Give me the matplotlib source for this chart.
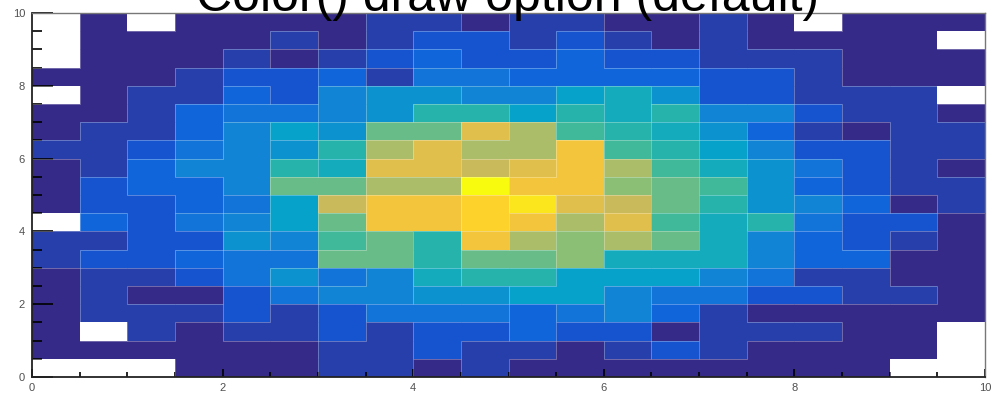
import numpy as np
import matplotlib.pyplot as plt
from matplotlib.colors import LinearSegmentedColormap
from matplotlib.collections import LineCollection
from matplotlib.ticker import MultipleLocator

# Histogram bin edges (20 x 20 bins over 0..10)
x_edges = np.linspace(0, 10, 21)
y_edges = np.linspace(0, 10, 21)

# Bin contents, rows from top (y=9.5..10) to bottom (y=0..0.5)
rows_top_down = [
    [0, 1, 0, 1, 1, 1, 1, 2, 2, 1, 2, 2, 1, 1, 2, 1, 0, 1, 1, 1],
    [0, 1, 1, 1, 1, 2, 1, 2, 3, 3, 2, 3, 2, 1, 2, 1, 1, 1, 1, 0],
    [0, 1, 1, 1, 2, 1, 2, 3, 4, 3, 3, 4, 3, 3, 2, 2, 2, 1, 1, 1],
    [1, 1, 1, 2, 3, 3, 4, 2, 5, 5, 4, 4, 4, 4, 3, 3, 2, 1, 1, 1],
    [0, 1, 2, 2, 4, 3, 6, 7, 7, 6, 6, 8, 9, 7, 3, 3, 2, 2, 2, 0],
    [1, 1, 2, 4, 5, 5, 6, 7, 10, 10, 8, 10, 9, 10, 6, 6, 3, 2, 2, 1],
    [1, 2, 2, 4, 6, 8, 7, 12, 12, 16, 14, 11, 10, 9, 7, 4, 2, 1, 2, 2],
    [2, 2, 3, 5, 6, 7, 10, 14, 16, 14, 14, 17, 11, 10, 8, 6, 3, 3, 2, 2],
    [1, 2, 4, 6, 6, 10, 9, 16, 16, 15, 16, 17, 14, 11, 9, 7, 5, 3, 2, 1],
    [1, 3, 4, 4, 6, 12, 12, 14, 14, 20, 17, 17, 13, 12, 11, 7, 4, 3, 2, 2],
    [1, 3, 3, 4, 5, 8, 15, 17, 17, 18, 19, 16, 15, 12, 10, 7, 6, 4, 1, 2],
    [0, 4, 3, 5, 6, 8, 12, 17, 17, 18, 17, 14, 16, 11, 9, 10, 5, 3, 3, 1],
    [2, 2, 3, 3, 7, 6, 11, 12, 10, 17, 14, 13, 14, 12, 9, 6, 4, 3, 2, 1],
    [2, 3, 3, 4, 5, 5, 12, 12, 10, 12, 12, 13, 9, 9, 9, 6, 4, 4, 1, 1],
    [1, 2, 2, 3, 5, 7, 5, 6, 9, 10, 10, 8, 8, 8, 6, 5, 2, 2, 1, 1],
    [1, 2, 1, 1, 3, 5, 6, 6, 7, 7, 8, 8, 6, 5, 5, 3, 3, 2, 2, 1],
    [1, 2, 2, 2, 3, 2, 3, 5, 5, 5, 4, 5, 6, 4, 2, 1, 1, 1, 1, 1],
    [1, 0, 2, 1, 2, 2, 3, 2, 3, 3, 4, 3, 3, 1, 2, 2, 2, 1, 1, 0],
    [1, 1, 1, 1, 1, 1, 2, 2, 3, 2, 2, 1, 2, 3, 2, 1, 1, 1, 1, 0],
    [0, 0, 0, 1, 1, 1, 2, 2, 1, 2, 1, 1, 1, 1, 1, 1, 1, 1, 0, 0],
]
counts = np.array(rows_top_down[::-1])

title = "Color() draw option (default)"

# ROOT kBird palette
bird_stops = [0.0, 0.125, 0.25, 0.375, 0.5, 0.625, 0.75, 0.875, 1.0]
bird_r = [0.2082, 0.0592, 0.0780, 0.0232, 0.1802, 0.5301, 0.8186, 0.9956, 0.9764]
bird_g = [0.1664, 0.3599, 0.5041, 0.6419, 0.7178, 0.7492, 0.7328, 0.7862, 0.9832]
bird_b = [0.5293, 0.8684, 0.8385, 0.7914, 0.6425, 0.4662, 0.3499, 0.1968, 0.0539]
bird = LinearSegmentedColormap.from_list(
    "bird", list(zip(bird_stops, zip(bird_r, bird_g, bird_b))))

plt.rcParams['font.family'] = ['Liberation Sans', 'DejaVu Sans']

fig = plt.figure(figsize=(9.91, 3.93), dpi=100)
ax = fig.add_axes([32 / 991, 16 / 393, 953 / 991, 364 / 393])

masked = np.ma.masked_equal(counts, 0)
ax.pcolormesh(x_edges, y_edges, masked, cmap=bird, vmin=1, vmax=counts.max())

# light seams where neighbouring bins get a different colour
segs = []
ny, nx = counts.shape
for j in range(ny):
    for i in range(nx - 1):
        if counts[j, i] != counts[j, i + 1]:
            segs.append([(x_edges[i + 1], y_edges[j]), (x_edges[i + 1], y_edges[j + 1])])
for j in range(ny - 1):
    for i in range(nx):
        if counts[j, i] != counts[j + 1, i]:
            segs.append([(x_edges[i], y_edges[j + 1]), (x_edges[i + 1], y_edges[j + 1])])
ax.add_collection(LineCollection(segs, colors='white', alpha=0.3, linewidths=0.7))

ax.set_xlim(0, 10)
ax.set_ylim(0, 10)
ax.xaxis.set_major_locator(MultipleLocator(2))
ax.xaxis.set_minor_locator(MultipleLocator(0.5))
ax.yaxis.set_major_locator(MultipleLocator(2))
ax.yaxis.set_minor_locator(MultipleLocator(0.5))

ax.tick_params(axis='y', which='major', direction='in', length=15, width=1.2,
               labelsize=8, labelcolor='#505050', pad=5)
ax.tick_params(axis='y', which='minor', direction='in', length=7, width=1.2)
ax.tick_params(axis='x', which='major', direction='in', length=6, width=1.2,
               labelsize=8, labelcolor='#505050', pad=4)
ax.tick_params(axis='x', which='minor', direction='in', length=3.5, width=1.2)

for side in ['left', 'bottom']:
    ax.spines[side].set_color('#222222')
    ax.spines[side].set_linewidth(1.3)
for side in ['top', 'right']:
    ax.spines[side].set_color('#777777')
    ax.spines[side].set_linewidth(1.0)

fig.text(508 / 991, 1 - 11 / 393, title, ha='center', va='baseline', fontsize=36)

fig.savefig("out.png", dpi=100)
